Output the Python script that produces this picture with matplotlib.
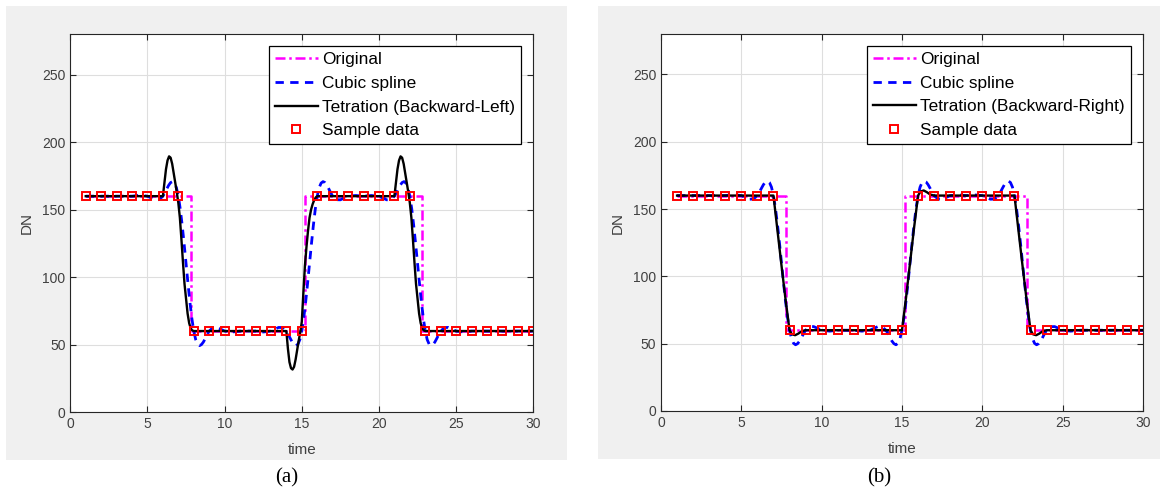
import matplotlib.pyplot as plt
from matplotlib.patches import Rectangle

# ---------- data ----------
sample_t = [1, 2, 3, 4, 5, 6, 7, 8, 9, 10, 11, 12, 13, 14, 15,
            16, 17, 18, 19, 20, 21, 22, 23, 24, 25, 26, 27, 28, 29, 30]
sample_dn = [160, 160, 160, 160, 160, 160, 160, 60, 60, 60, 60, 60, 60, 60, 60,
             160, 160, 160, 160, 160, 160, 160, 60, 60, 60, 60, 60, 60, 60, 60]

# original signal (steps)
orig_t = [1, 7.8, 7.8, 15.2, 15.2, 22.8, 22.8, 30]
orig_dn = [160, 160, 60, 60, 160, 160, 60, 60]

# cubic spline curve
spline_t = [1, 2, 3, 4, 4.5, 5, 5.25, 5.5, 5.75, 6, 6.125, 6.25, 6.375, 6.5, 6.625, 6.75, 6.875,
            7, 7.125, 7.25, 7.375, 7.5, 7.625, 7.75, 7.875, 8, 8.125, 8.25, 8.375, 8.5, 8.625,
            8.75, 8.875, 9, 9.25, 9.5, 9.75, 10, 10.5, 11, 12, 12.5, 13, 13.25, 13.5, 13.75,
            14, 14.125, 14.25, 14.375, 14.5, 14.625, 14.75, 14.875, 15, 15.125, 15.25, 15.375,
            15.5, 15.625, 15.75, 15.875, 16, 16.125, 16.25, 16.375, 16.5, 16.625, 16.75, 16.875,
            17, 17.25, 17.5, 17.75, 18, 18.5, 19, 19.5, 20, 20.25, 20.5, 20.75, 21, 21.125,
            21.25, 21.375, 21.5, 21.625, 21.75, 21.875, 22, 22.125, 22.25, 22.375, 22.5, 22.625,
            22.75, 22.875, 23, 23.125, 23.25, 23.375, 23.5, 23.625, 23.75, 23.875, 24, 24.25,
            24.5, 24.75, 25, 25.5, 26, 30]
spline_dn = [160, 160, 160, 160, 160.7, 160, 158.6, 157.3, 157.4, 160, 162.5, 165.4, 168.1, 170.1, 170.8, 169.7, 166.3,
             160, 150.5, 138.4, 124.7, 110, 95.4, 81.6, 69.5, 60, 53.7, 50.3, 49.2, 50.0, 51.9,
             54.6, 57.5, 60, 62.6, 62.7, 61.4, 60, 59.3, 60, 60, 59.3, 60, 61.4, 62.7, 62.6,
             60, 57.5, 54.6, 51.9, 50.0, 49.2, 50.3, 53.7, 60, 69.5, 81.6, 95.4,
             110, 124.7, 138.4, 150.5, 160, 166.3, 169.7, 170.8, 170.1, 168.1, 165.4, 162.5,
             160, 157.4, 157.3, 158.6, 160, 160.5, 160, 160.5, 160, 158.6, 157.3, 157.4, 160, 162.5,
             165.4, 168.1, 170.1, 170.8, 169.7, 166.3, 160, 150.5, 138.4, 124.7, 110, 95.4,
             81.6, 69.5, 60, 53.7, 50.3, 49.2, 50.0, 51.9, 54.6, 57.5, 60, 62.6,
             62.7, 61.4, 60, 59.3, 60, 60]

# tetration, backward-left (a)
tet_left_t = [1, 6, 6.1, 6.2, 6.3, 6.4, 6.5, 6.6, 6.7, 6.8, 6.9, 7.0, 7.1, 7.2, 7.3, 7.4, 7.5,
              7.6, 7.7, 7.8, 7.9, 8, 14, 14.1, 14.2, 14.3, 14.4, 14.5, 14.6, 14.7, 14.8, 14.9,
              15.0, 15.1, 15.2, 15.3, 15.4, 15.5, 15.6, 15.7, 15.8, 15.9, 16, 21, 21.1, 21.2,
              21.3, 21.4, 21.5, 21.6, 21.7, 21.8, 21.9, 22.0, 22.1, 22.2, 22.3, 22.4, 22.5,
              22.6, 22.7, 22.8, 22.9, 23, 30]
tet_left_dn = [160, 160, 170, 180, 186.5, 189.5, 188.5, 184, 177, 170, 163, 155, 144, 128, 111, 95, 84,
               73, 66, 62, 60.5, 60, 60, 47, 37, 32.5, 31.5, 33.5, 39, 46, 53, 59,
               67, 88, 108, 122, 134, 144, 150, 154, 157, 159, 160, 160, 170, 180,
               186.5, 189.5, 188.5, 184, 177, 170, 163, 155, 144, 128, 111, 95, 84,
               73, 66, 62, 60.5, 60, 60]

# tetration, backward-right (b)
tet_right_t = [1, 7, 7.25, 7.5, 7.75, 8, 8.15, 8.35, 8.55, 8.75, 9, 15, 15.25, 15.5, 15.75, 16,
               16.15, 16.35, 16.55, 16.75, 17, 22, 22.25, 22.5, 22.75, 23, 23.15, 23.35, 23.55,
               23.75, 24, 30]
tet_right_dn = [160, 160, 134, 108, 83, 60, 57, 56.3, 57.5, 59.2, 60, 60, 84, 110, 136, 160,
                163, 163.8, 162.5, 160.8, 160, 160, 134, 108, 83, 60, 57, 56.3, 57.5,
                59.2, 60, 60]

W, H = 1166, 493
DARK = '#262626'
TXT = '#404040'
plt.rcParams['font.family'] = ['Liberation Sans', 'DejaVu Sans']

fig = plt.figure(figsize=(W / 100, H / 100), dpi=100)

def add_panel(box, ax_rect, tet_t, tet_dn, tet_label, tag):
    x0, y0, x1, y1 = box
    fig.patches.append(Rectangle((x0 / W, 1 - y1 / H), (x1 - x0) / W, (y1 - y0) / H,
                                 transform=fig.transFigure, facecolor='#f0f0f0',
                                 edgecolor='none', zorder=-1))
    l, t, r, b = ax_rect
    ax = fig.add_axes([l / W, 1 - b / H, (r - l) / W, (b - t) / H])
    ax.plot(orig_t, orig_dn, color='#ff00ff', lw=1.8, ls=(0, (4, 1.5, 1, 1.5)), label='Original')
    ax.plot(spline_t, spline_dn, color='#0000ff', lw=2, ls=(0, (3, 2.3)), label='Cubic spline')
    ax.plot(tet_t, tet_dn, color='black', lw=1.7, label=tet_label)
    ax.plot(sample_t, sample_dn, ls='none', marker='s', ms=6, mfc='none', mec='red',
            mew=1.4, label='Sample data')
    ax.set_xlim(0, 30)
    ax.set_ylim(0, 280)
    ax.set_xticks([0, 5, 10, 15, 20, 25, 30])
    ax.set_yticks([0, 50, 100, 150, 200, 250])
    ax.grid(True, color='#dedede', lw=0.8)
    ax.set_axisbelow(True)
    ax.tick_params(direction='in', length=4, width=0.8, top=True, right=True,
                   colors=DARK, labelsize=10, labelcolor=TXT)
    for s in ax.spines.values():
        s.set_color(DARK)
        s.set_linewidth(0.8)
    ax.set_xlabel('time', fontsize=11, color=TXT, labelpad=9)
    ax.set_ylabel('DN', fontsize=11, color=TXT, labelpad=6)
    leg = ax.legend(loc='upper right', fontsize=12.4, frameon=True, fancybox=False,
                    edgecolor='black', framealpha=1, borderaxespad=0.7, handlelength=2.5,
                    handletextpad=0.25, borderpad=0.35, labelspacing=0.5, numpoints=1)
    leg.get_frame().set_linewidth(0.9)
    fig.text((x0 + x1) / 2 / W, 1 - 478 / H, tag, ha='center', va='center',
             fontsize=15, family='Liberation Serif')
    return ax

add_panel((6, 6, 567, 460), (70.3, 34.3, 533.3, 412), tet_left_t, tet_left_dn,
          'Tetration (Backward-Left)', '(a)')
add_panel((598, 6, 1160, 459), (661, 34, 1143, 411), tet_right_t, tet_right_dn,
          'Tetration (Backward-Right)', '(b)')

fig.savefig('out.png', dpi=100)
